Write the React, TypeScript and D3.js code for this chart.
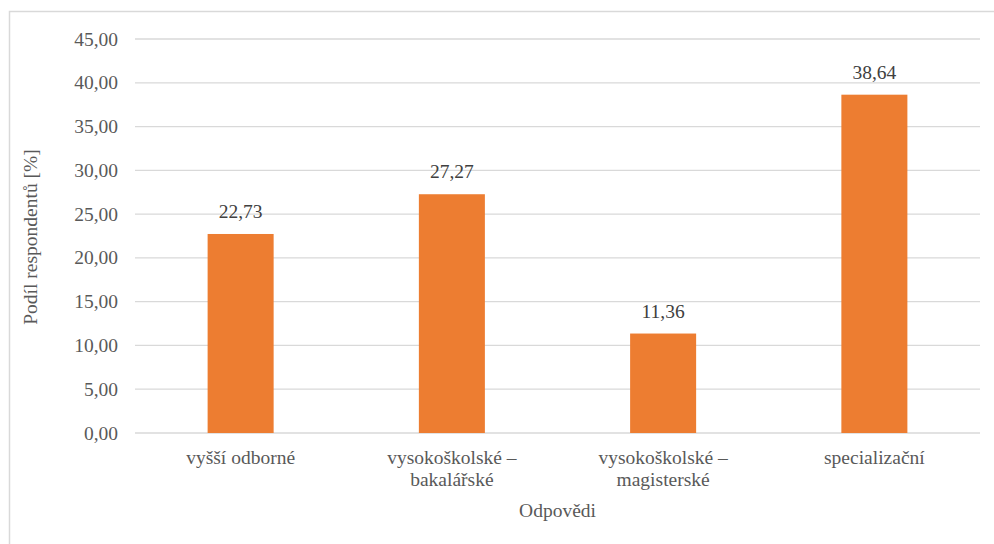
import React from "react";
import * as d3 from "d3";

const categories: string[][] = [
  ["vyšší odborné"],
  ["vysokoškolské –", "bakalářské"],
  ["vysokoškolské –", "magisterské"],
  ["specializační"],
];
const values: number[] = [22.73, 27.27, 11.36, 38.64];
const yTicks: number[] = [0, 5, 10, 15, 20, 25, 30, 35, 40, 45];
const yTitle = "Podíl respondentů [%]";
const xTitle = "Odpovědi";

const W = 994;
const H = 544;
const left = 135;
const right = 980;
const top = 39;
const bottom = 433;

const fmt = (v: number) => v.toFixed(2).replace(".", ",");
const FF = "Liberation Serif";

export default function App() {
  const x = d3
    .scaleBand<number>()
    .domain(categories.map((_, i) => i))
    .range([left, right])
    .padding(0);
  const y = d3.scaleLinear().domain([0, 45]).range([bottom, top]);
  const bw = x.bandwidth() * 0.3125;
  const textColor = "#595959";
  const fs = 19.5;

  return (
    <svg width={W} height={H} fontFamily={FF} style={{ position: "absolute", left: 0, top: 0, fontFamily: FF }}>
      <rect x={0} y={0} width={W} height={H} fill="#fff" />
      <rect x={9.5} y={11.5} width={W} height={H} fill="none" stroke="#d9d9d9" strokeWidth={1.5} />
      {yTicks.map((t) => (
        <line key={"g" + t} x1={left} x2={right} y1={y(t)} y2={y(t)} stroke="#d9d9d9" strokeWidth={1.3} />
      ))}
      {yTicks.map((t) => (
        <text key={"t" + t} x={118} y={y(t) + 6.5} textAnchor="end" fontFamily={FF} fontSize={fs} fill={textColor}>
          {fmt(t)}
        </text>
      ))}
      {values.map((v, i) => {
        const cx = (x(i) as number) + x.bandwidth() / 2;
        return <rect key={"b" + i} x={cx - bw / 2} y={y(v)} width={bw} height={y(0) - y(v)} fill="#ED7D31" />;
      })}
      {values.map((v, i) => {
        const cx = (x(i) as number) + x.bandwidth() / 2;
        return (
          <text key={"v" + i} x={cx} y={y(v) - 16} textAnchor="middle" fontFamily={FF} fontSize={fs} fill="#404040">
            {fmt(v)}
          </text>
        );
      })}
      {categories.map((lines, i) => {
        const cx = (x(i) as number) + x.bandwidth() / 2;
        return lines.map((line, j) => (
          <text key={"c" + i + "-" + j} x={cx} y={464 + j * 22} textAnchor="middle" fontFamily={FF} fontSize={fs} fill={textColor}>
            {line}
          </text>
        ));
      })}
      <text x={(left + right) / 2} y={517} textAnchor="middle" fontFamily={FF} fontSize={fs} fill={textColor}>
        {xTitle}
      </text>
      <text
        transform={`translate(37, ${(top + bottom) / 2 + 1}) rotate(-90)`}
        textAnchor="middle"
        fontFamily={FF}
        fontSize={fs}
        fill={textColor}
      >
        {yTitle}
      </text>
    </svg>
  );
}
